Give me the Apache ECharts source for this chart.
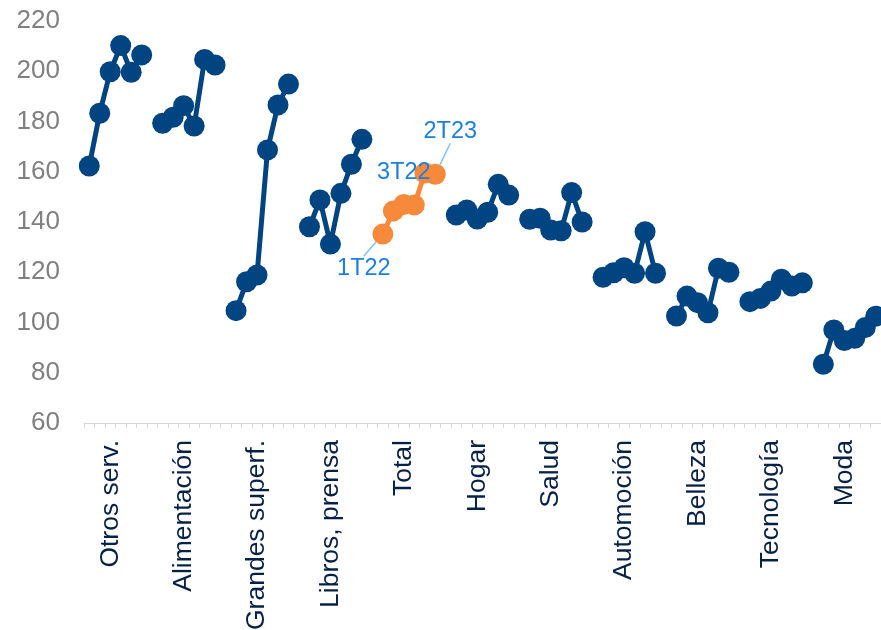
<!DOCTYPE html>
<html>
<head>
<meta charset="utf-8">
<script src="https://cdn.jsdelivr.net/npm/echarts@6/dist/echarts.min.js"></script>
<style>
  html, body { margin: 0; padding: 0; background: #fff; }
  #chart { width: 881px; height: 630px; }
</style>
</head>
<body>
<div id="chart"></div>
<script>
// Sectors, in the order they appear on the axis
const sectors = ['Otros serv.', 'Alimentación', 'Grandes superf.', 'Libros, prensa', 'Total',
  'Hogar', 'Salud', 'Automoción', 'Belleza', 'Tecnología', 'Moda'];
// Quarters plotted for each sector
const quarters = ['1T22', '2T22', '3T22', '4T22', '1T23', '2T23'];

// Index values per sector, one per quarter
const otrosServ   = [162.3, 183.3, 199.8, 210.2, 199.6, 206.5];
const alimentacion = [179.3, 181.7, 186.3, 178.2, 204.7, 202.5];
const grandesSup  = [104.7, 116.2, 118.9, 168.7, 186.6, 194.9];
const librosPrensa = [138.1, 148.8, 131.2, 151.4, 163.0, 172.9];
const total       = [135.2, 144.4, 147.0, 146.8, 159.5, 159.0];
const hogar       = [142.8, 144.8, 141.2, 143.9, 155.0, 150.7];
const salud       = [141.1, 141.5, 136.8, 136.5, 151.7, 140.0];
const automocion  = [118.0, 119.8, 121.8, 119.6, 136.1, 119.6];
const belleza     = [102.6, 110.5, 107.9, 103.9, 121.6, 120.0];
const tecnologia  = [108.3, 109.6, 112.5, 117.2, 114.5, 115.8];
const moda        = [83.4, 97.0, 92.8, 93.7, 98.0, 102.5];

const sectorValues = [otrosServ, alimentacion, grandesSup, librosPrensa, total,
  hogar, salud, automocion, belleza, tecnologia, moda];
const totalIndex = 4;

// Quarters labelled on the "Total" line
const labelledQuarters = ['1T22', '3T22', '2T23'];

// Y axis ticks
const yMin = 60, yMax = 220, yStep = 20;

// Where each quarter label sits relative to its point; leader line or not
const labelShift = {
  '1T22': { dx: -19, dy: 34, leader: true },
  '3T22': { dx: 0, dy: -32, leader: false },
  '2T23': { dx: 15, dy: -43, leader: true }
};

// Build the category axis: each sector gets its quarters plus one empty slot
const categories = [];
const sectorSeries = [];
const totalSeries = [];
sectors.forEach((s, si) => {
  quarters.forEach((q, qi) => {
    categories.push(s + '|' + q);
    const v = sectorValues[si][qi];
    if (si === totalIndex) {
      sectorSeries.push(null);
      const item = { value: v, quarter: q };
      if (labelShift[q] && !labelShift[q].leader) item.labelLine = { show: false };
      totalSeries.push(item);
    } else {
      sectorSeries.push(v);
      totalSeries.push(null);
    }
  });
  if (si < sectors.length - 1) {
    categories.push(s + '|');
    sectorSeries.push(null);
    totalSeries.push(null);
  }
});

// Category label sits under the third quarter of each sector
const isLabelSlot = (idx) => idx % 7 === 2;

const labelFont = 'Liberation Sans, Arial, sans-serif';
const chart = echarts.init(document.getElementById('chart'));

chart.setOption({
  animation: false,
  grid: { left: 84, right: 0, top: 21, bottom: 207, containLabel: false, outerBoundsMode: 'none' },
  xAxis: {
    type: 'category',
    data: categories,
    boundaryGap: true,
    axisLine: { show: true, lineStyle: { color: '#d9d9d9', width: 1 } },
    axisTick: { show: true, interval: 0, length: 5, lineStyle: { color: '#d9d9d9' } },
    axisLabel: {
      interval: (idx) => isLabelSlot(idx),
      rotate: 90,
      margin: 17,
      color: '#072146',
      fontSize: 26.5,
      fontFamily: labelFont,
      formatter: (v) => v.split('|')[0]
    },
    splitLine: { show: false }
  },
  yAxis: {
    type: 'value',
    min: yMin,
    max: yMax,
    interval: yStep,
    axisLine: { show: false },
    axisTick: { show: false },
    splitLine: { show: false },
    axisLabel: { color: '#808080', fontSize: 26, fontFamily: labelFont, margin: 24 }
  },
  series: [
    {
      type: 'line',
      data: sectorSeries,
      connectNulls: false,
      symbol: 'circle',
      symbolSize: 21,
      showAllSymbol: true,
      lineStyle: { color: '#004481', width: 5 },
      itemStyle: { color: '#004481', borderWidth: 0 },
      z: 2
    },
    {
      type: 'line',
      data: totalSeries,
      connectNulls: false,
      symbol: 'circle',
      symbolSize: 21,
      showAllSymbol: true,
      lineStyle: { color: '#f7893b', width: 5 },
      itemStyle: { color: '#f7893b', borderWidth: 0 },
      label: {
        show: true,
        position: 'inside',
        color: '#1a7fe0',
        fontSize: 23.5,
        fontFamily: labelFont,
        formatter: (p) => (p.data && labelledQuarters.includes(p.data.quarter)) ? p.data.quarter : ''
      },
      labelLine: { show: true, lineStyle: { color: '#7fc0f5', width: 1.5 } },
      labelLayout: (p) => {
        const item = totalSeries[p.dataIndex];
        const shift = item && labelShift[item.quarter];
        if (!shift) return {};
        const r = p.rect;
        return {
          x: r.x + r.width / 2 + shift.dx,
          y: r.y + r.height / 2 + shift.dy,
          align: 'center',
          verticalAlign: 'middle'
        };
      },
      z: 3
    }
  ]
});
</script>
</body>
</html>
